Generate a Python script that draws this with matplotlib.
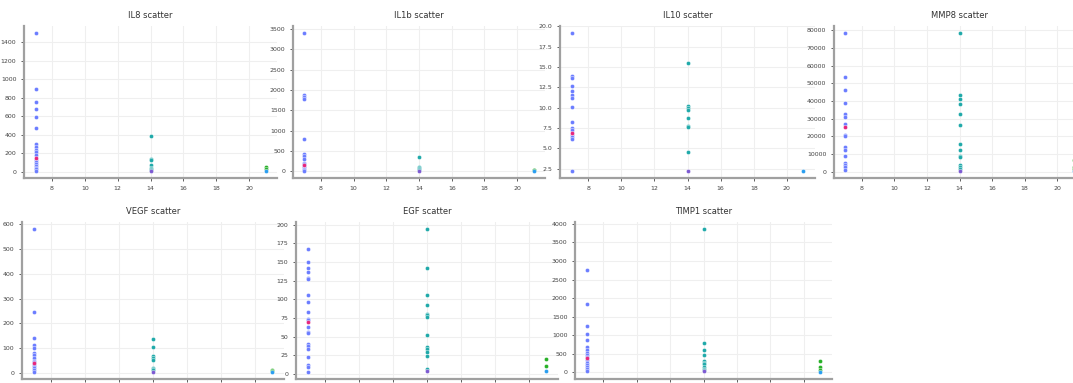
# scatter of cytokine levels per day, one panel per marker
import numpy as np
import matplotlib
matplotlib.use("Agg")
import matplotlib.pyplot as plt
from matplotlib.ticker import MultipleLocator

W, H = 1073, 383

# ---- data (day 7 / 14 / 21) ----
il8_d7 = [1500, 890, 750, 680, 590, 470, 300, 265, 235, 210, 175, 120, 100, 80, 60, 40, 25, 10]
il8_d7_mean = [150]
il8_d14 = [385, 140, 125, 70, 40, 25, 15]
il8_d14_low = [5]
il8_d21 = [45, 30]
il8_d21_low = [5]

il1b_d7 = [3400, 1870, 1820, 1770, 800, 420, 370, 310, 210, 180, 120, 100, 60, 30, 10]
il1b_d7_mean = [150]
il1b_d14 = [350, 110, 90, 60, 30]
il1b_d14_low = [10]
il1b_d21 = [40, 20]
il1b_d21_low = [5]

il10_d7 = [19.2, 13.9, 13.6, 12.7, 12.1, 11.6, 11.2, 10.1, 8.3, 7.5, 7.2, 6.7, 6.4, 6.1, 2.2]
il10_d7_mean = [6.9]
il10_d14 = [15.5, 10.2, 10.0, 9.7, 8.7, 7.8, 7.6, 4.6]
il10_d14_low = [2.2]
il10_d21 = []
il10_d21_low = [2.2]

mmp8_d7 = [78500, 53500, 46000, 39000, 32500, 31000, 27000, 21000, 20000, 14000, 12500,
           9000, 5000, 4000, 2500, 1000]
mmp8_d7_mean = [25000]
mmp8_d14 = [78500, 43500, 41000, 38000, 32500, 26500, 15500, 12500, 9000, 8000, 4000, 2500, 1500]
mmp8_d14_low = [300]
mmp8_d21 = [6300, 2500, 1500]
mmp8_d21_low = [500]

vegf_d7 = [580, 245, 140, 112, 102, 80, 72, 62, 50, 45, 35, 28, 20, 12, 5]
vegf_d7_mean = [40]
vegf_d14 = [139, 105, 70, 60, 52, 22, 17, 12]
vegf_d14_low = [5]
vegf_d21 = [14, 10]
vegf_d21_low = [5]

egf_d7 = [167, 150, 142, 137, 129, 127, 106, 97, 83, 74, 72, 63, 57, 55, 40, 37, 34, 23, 12, 10, 3]
egf_d7_mean = [70]
egf_d14 = [194, 142, 106, 93, 81, 79, 77, 52, 36, 33, 30, 24, 7]
egf_d14_low = [4]
egf_d21 = [20, 11]
egf_d21_low = [4]

timp1_d7 = [2760, 1840, 1260, 1020, 870, 690, 600, 520, 460, 420, 330, 260, 200, 140, 90, 45]
timp1_d7_mean = [390]
timp1_d14 = [3860, 800, 590, 470, 300, 260, 220, 140, 100, 60]
timp1_d14_low = [20]
timp1_d21 = [290, 140, 50]
timp1_d21_low = [10]

days = [7, 14, 21]
names = ["IL8", "IL1b", "IL10", "MMP8", "VEGF", "EGF", "TIMP1"]
y_steps = [200, 500, 2.5, 10000, 100, 25, 500]

panels = {
    "IL8": (il8_d7, il8_d7_mean, il8_d14, il8_d14_low, il8_d21, il8_d21_low),
    "IL1b": (il1b_d7, il1b_d7_mean, il1b_d14, il1b_d14_low, il1b_d21, il1b_d21_low),
    "IL10": (il10_d7, il10_d7_mean, il10_d14, il10_d14_low, il10_d21, il10_d21_low),
    "MMP8": (mmp8_d7, mmp8_d7_mean, mmp8_d14, mmp8_d14_low, mmp8_d21, mmp8_d21_low),
    "VEGF": (vegf_d7, vegf_d7_mean, vegf_d14, vegf_d14_low, vegf_d21, vegf_d21_low),
    "EGF": (egf_d7, egf_d7_mean, egf_d14, egf_d14_low, egf_d21, egf_d21_low),
    "TIMP1": (timp1_d7, timp1_d7_mean, timp1_d14, timp1_d14_low, timp1_d21, timp1_d21_low),
}

colors = ["#6b7dff", "#e6267e", "#1fa9a9", "#7d5bd2", "#27b027", "#2a9ef0"]

# panel boxes in pixels: left, top, right, bottom
boxes = {
    "IL8": (24, 26, 277, 178),
    "IL1b": (293, 26, 545, 178),
    "IL10": (560, 26, 815, 178),
    "MMP8": (834, 26, 1085, 178),
    "VEGF": (22, 222, 284, 379),
    "EGF": (296, 222, 558, 379),
    "TIMP1": (575, 222, 832, 379),
}


def add_panel(fig, box):
    l, t, r, b = box
    return fig.add_axes([l / W, 1 - b / H, (r - l) / W, (b - t) / H])


def style_axes(ax, step):
    ax.set_facecolor("white")
    ax.grid(True, color="#efefef", linewidth=0.8)
    ax.set_axisbelow(True)
    for s in ["top", "right"]:
        ax.spines[s].set_visible(False)
    for s in ["left", "bottom"]:
        ax.spines[s].set_color("#a0a0a0")
        ax.spines[s].set_linewidth(1.6)
    ax.tick_params(labelsize=4.5, colors="#444444", length=2, width=0.6)
    ax.xaxis.set_major_locator(MultipleLocator(2))
    ax.yaxis.set_major_locator(MultipleLocator(step))


fig = plt.figure(figsize=(W / 100, H / 100), dpi=100)

for name, step in zip(names, y_steps):
    ax = add_panel(fig, boxes[name])
    d7, d7m, d14, d14l, d21, d21l = panels[name]
    groups = [(days[0], d7), (days[0], d7m), (days[1], d14), (days[1], d14l),
              (days[2], d21), (days[2], d21l)]
    for (day, vals), c in zip(groups, colors):
        if len(vals) == 0:
            continue
        ax.scatter(np.full(len(vals), day), vals, s=9, color=c,
                   edgecolor="white", linewidth=0.3, zorder=3)
    ax.set_title(f"{name} scatter", fontsize=6, color="#333333", pad=6)
    style_axes(ax, step)

fig.savefig("out.png", dpi=100)
